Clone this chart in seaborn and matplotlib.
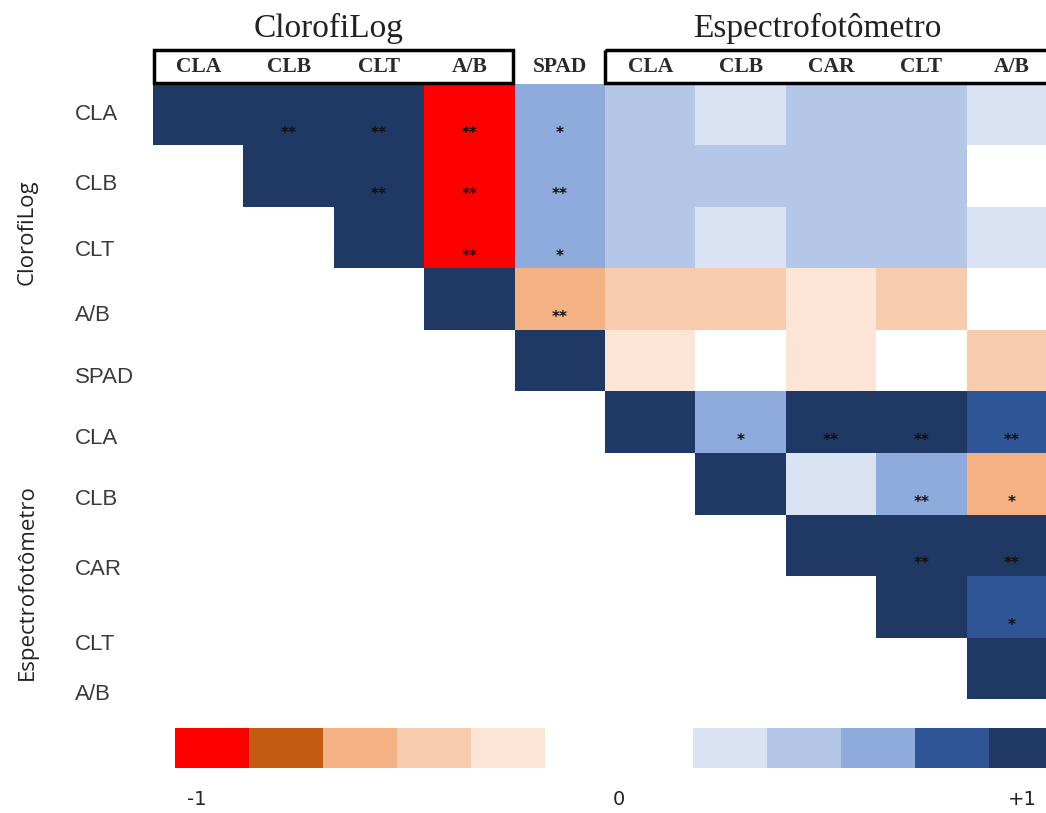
import numpy as np
import pandas as pd
import seaborn as sns
import matplotlib.pyplot as plt
from matplotlib.colors import ListedColormap
from matplotlib.patches import Rectangle

# variables (same order on rows and columns)
col_labels = ["CLA", "CLB", "CLT", "A/B", "SPAD", "CLA", "CLB", "CAR", "CLT", "A/B"]
row_labels = ["CLA", "CLB", "CLT", "A/B", "SPAD", "CLA", "CLB", "CAR", "CLT", "A/B"]

# correlation class: -5 (strong negative) .. 0 .. +5 (strong positive), nan = not shown
classes = [
    [5, 5, 5, -5, 3, 2, 1, 2, 2, 1],
    [np.nan, 5, 5, -5, 3, 2, 2, 2, 2, 0],
    [np.nan, np.nan, 5, -5, 3, 2, 1, 2, 2, 1],
    [np.nan, np.nan, np.nan, 5, -3, -2, -2, -1, -2, 0],
    [np.nan, np.nan, np.nan, np.nan, 5, -1, 0, -1, 0, -2],
    [np.nan, np.nan, np.nan, np.nan, np.nan, 5, 3, 5, 5, 4],
    [np.nan, np.nan, np.nan, np.nan, np.nan, np.nan, 5, 1, 3, -3],
    [np.nan, np.nan, np.nan, np.nan, np.nan, np.nan, np.nan, 5, 5, 5],
    [np.nan, np.nan, np.nan, np.nan, np.nan, np.nan, np.nan, np.nan, 5, 4],
    [np.nan, np.nan, np.nan, np.nan, np.nan, np.nan, np.nan, np.nan, np.nan, 5],
]

# significance marks
stars = [
    ["", "**", "**", "**", "*", "", "", "", "", ""],
    ["", "", "**", "**", "**", "", "", "", "", ""],
    ["", "", "", "**", "*", "", "", "", "", ""],
    ["", "", "", "", "**", "", "", "", "", ""],
    ["", "", "", "", "", "", "", "", "", ""],
    ["", "", "", "", "", "", "*", "**", "**", "**"],
    ["", "", "", "", "", "", "", "", "**", "*"],
    ["", "", "", "", "", "", "", "", "**", "**"],
    ["", "", "", "", "", "", "", "", "", "*"],
    ["", "", "", "", "", "", "", "", "", ""],
]

# legend strip classes and labels
legend_classes = [-5, -4, -3, -2, -1, 0, 0, 1, 2, 3, 4, 5]
legend_tick_pos = [0.3, 6.0, 11.45]
legend_tick_labels = ["-1", "0", "+1"]

# row label positions (rows are not evenly labelled in the original)
row_label_pos = [0.5, 1.64, 2.7, 3.76, 4.78, 5.76, 6.76, 7.9, 9.12, 9.93]

palette = ["#FF0000", "#C55A11", "#F4B183", "#F8CBAD", "#FCE4D6", "#FFFFFF",
           "#DAE3F3", "#B4C7E7", "#8FAADC", "#2F5597", "#203864"]
cmap = ListedColormap(palette)

sns.set_theme(style="white")

fig = plt.figure(figsize=(10.46, 8.13), dpi=100)
ax = fig.add_axes([153 / 1046, 1 - 699 / 813, 904 / 1046, 615 / 813])

df = pd.DataFrame(classes, index=range(10), columns=range(10))
sns.heatmap(df, ax=ax, cmap=cmap, vmin=-5.5, vmax=5.5, cbar=False, mask=df.isna())

for i, row in enumerate(stars):
    for j, s in enumerate(row):
        if s:
            ax.text(j + 0.5, i + 0.8, s, ha="center", va="center",
                    fontsize=11, fontweight="bold", color="#111111")

# column labels on top
ax.set_xticks([])
for j, lab in enumerate(col_labels):
    ax.text(j + 0.5, -0.27, lab, ha="center", va="center", fontweight="bold",
            family="Liberation Serif", fontsize=15.5, color="#2a2a2a", clip_on=False)

ax.set_yticks(row_label_pos)
ax.set_yticklabels(row_labels, family="Liberation Sans", fontsize=16, color="#3a3a3a",
                   ha="left", rotation=0)
ax.tick_params(axis="y", length=0, pad=56)

# boxes around the column groups
ax.add_patch(Rectangle((0.01, -0.55), 3.97, 0.53, fill=False, lw=2.5,
                       edgecolor="black", clip_on=False))
ax.add_patch(Rectangle((5.0, -0.55), 5.2, 0.53, fill=False, lw=2.5,
                       edgecolor="black", clip_on=False))

ax.text(1.94, -0.91, "ClorofiLog", ha="center", va="center",
        family="Liberation Serif", fontsize=24, color="#222222", clip_on=False)
ax.text(7.35, -0.91, "Espectrofotômetro", ha="center", va="center",
        family="Liberation Serif", fontsize=24, color="#222222", clip_on=False)

fig.text(27 / 1046, 1 - 232 / 813, "ClorofiLog", rotation=90, ha="center", va="center",
         family="Open Sans", fontsize=16, color="#222222")
fig.text(27 / 1046, 1 - 582 / 813, "Espectrofotômetro", rotation=90, ha="center",
         va="center", family="Open Sans", fontsize=16, color="#222222")

# legend strip
cax = fig.add_axes([175 / 1046, 1 - 768 / 813, 888 / 1046, 40 / 813])
sns.heatmap(pd.DataFrame([legend_classes]), ax=cax, cmap=cmap, vmin=-5.5, vmax=5.5,
            cbar=False)
cax.set_yticks([])
cax.set_xticks(legend_tick_pos)
cax.set_xticklabels(legend_tick_labels, family=["Liberation Sans Narrow", "DejaVu Sans"],
                    fontsize=14, color="#222222", rotation=0)
cax.tick_params(axis="x", length=0, pad=16)

fig.savefig("out.png", dpi=100)
